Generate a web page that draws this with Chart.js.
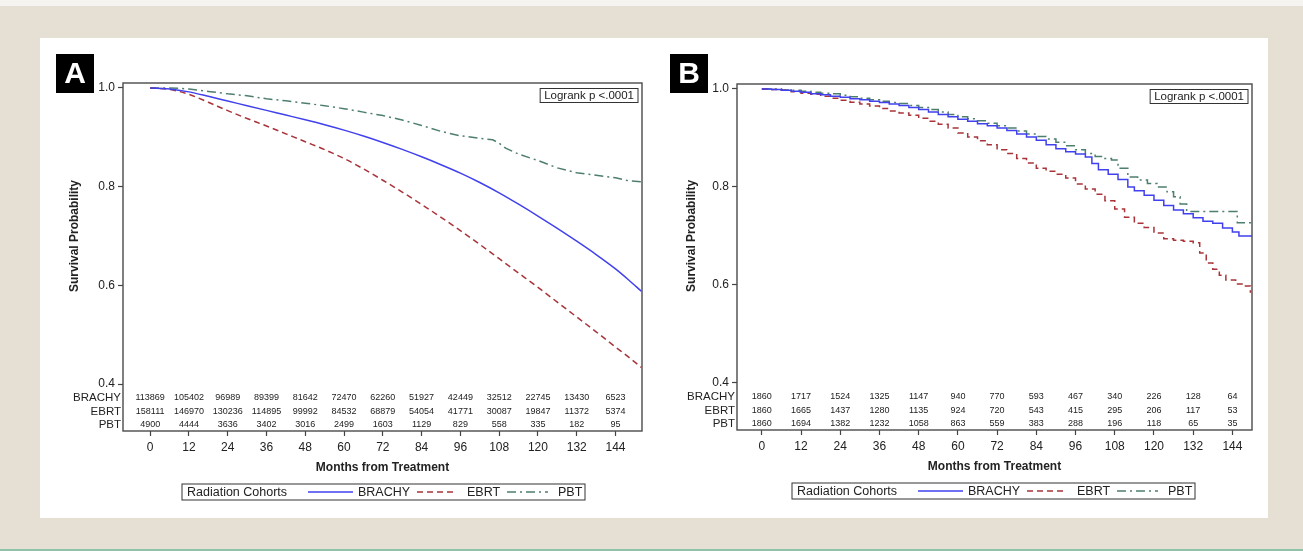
<!DOCTYPE html>
<html>
<head>
<meta charset="utf-8">
<script src="https://cdn.jsdelivr.net/npm/chart.js@4/dist/chart.umd.min.js"></script>
<style>
  html, body { margin: 0; padding: 0; width: 1303px; height: 551px; overflow: hidden; background: #e6dfd4; }
  #topstrip { position: absolute; left: 0; top: 0; width: 1303px; height: 6px; background: #f6f4f0; }
  #panel { position: absolute; left: 40px; top: 38px; width: 1228px; height: 480px; background: #ffffff; }
  #bottomline { position: absolute; left: 0; top: 549px; width: 1303px; height: 2px; background: #8fc2aa; }
  canvas { position: absolute; top: 38px; }
  #chartA { left: 40px; }
  #chartB { left: 660px; }
</style>
</head>
<body>
<div id="topstrip"></div>
<div id="panel"></div>
<div id="bottomline"></div>
<canvas id="chartA" width="620" height="480"></canvas>
<canvas id="chartB" width="608" height="480"></canvas>
<script>
// ---- Panel A: survival curves (months, survival probability) ----
const monthsA = [0, 6, 12, 18, 24, 30, 36, 42, 48, 54, 60, 66, 72, 78, 84, 90, 96, 102, 108, 114, 120, 126, 132, 138, 144, 148, 152];
const brachyA = [1.0, 0.998, 0.992, 0.983, 0.9735, 0.964, 0.9545, 0.945, 0.9355, 0.9255, 0.9145, 0.9025, 0.8895, 0.8755, 0.8605, 0.8445, 0.8275, 0.8085, 0.7875, 0.7645, 0.7405, 0.7155, 0.6895, 0.6625, 0.6335, 0.6115, 0.588];
const ebrtA = [1.0, 0.997, 0.987, 0.971, 0.954, 0.938, 0.923, 0.907, 0.891, 0.875, 0.857, 0.836, 0.813, 0.789, 0.764, 0.738, 0.711, 0.683, 0.654, 0.625, 0.596, 0.566, 0.536, 0.506, 0.475, 0.455, 0.434];
const pbtMonthsA = [0, 6, 12, 18, 24, 30, 36, 42, 48, 54, 60, 66, 72, 78, 84, 90, 96, 102, 106, 108, 110, 114, 120, 126, 132, 138, 144, 148, 152];
const pbtA = [1.0, 1.0, 0.998, 0.993, 0.988, 0.984, 0.978, 0.974, 0.969, 0.964, 0.958, 0.951, 0.944, 0.935, 0.924, 0.912, 0.903, 0.898, 0.895, 0.888, 0.878, 0.866, 0.853, 0.838, 0.828, 0.823, 0.818, 0.812, 0.810];

// ---- Panel B: matched cohorts, step curves ----
const brachyMonthsB = [0, 3, 6, 9, 12, 15, 18, 21, 24, 27, 30, 33, 36, 39, 42, 45, 48, 51, 54, 57, 60, 63, 66, 69, 72, 75, 78, 81, 84, 87, 90, 93, 96, 99, 101, 103, 106, 109, 112, 114, 117, 120, 123, 126, 129, 132, 135, 138, 141, 144, 146, 150];
const brachyB = [1.0, 0.999, 0.997, 0.995, 0.993, 0.990, 0.988, 0.985, 0.983, 0.980, 0.978, 0.975, 0.972, 0.969, 0.966, 0.962, 0.958, 0.953, 0.948, 0.943, 0.938, 0.934, 0.929, 0.925, 0.920, 0.915, 0.908, 0.902, 0.895, 0.886, 0.878, 0.872, 0.867, 0.861, 0.848, 0.835, 0.826, 0.815, 0.800, 0.792, 0.783, 0.773, 0.762, 0.753, 0.745, 0.737, 0.730, 0.726, 0.716, 0.708, 0.700, 0.700];
const ebrtMonthsB = [0, 3, 6, 9, 12, 15, 18, 21, 24, 27, 30, 33, 36, 39, 42, 45, 48, 51, 54, 57, 60, 63, 66, 69, 72, 75, 78, 81, 84, 87, 90, 93, 96, 99, 102, 105, 108, 111, 114, 117, 120, 123, 126, 129, 132, 134, 136, 138, 140, 142, 145, 148, 149.5];
const ebrtB = [1.0, 0.999, 0.997, 0.994, 0.991, 0.989, 0.985, 0.981, 0.977, 0.973, 0.969, 0.965, 0.960, 0.955, 0.951, 0.946, 0.940, 0.934, 0.928, 0.920, 0.910, 0.902, 0.894, 0.886, 0.876, 0.868, 0.858, 0.849, 0.838, 0.832, 0.826, 0.818, 0.806, 0.796, 0.785, 0.772, 0.755, 0.738, 0.726, 0.717, 0.706, 0.694, 0.691, 0.689, 0.686, 0.665, 0.645, 0.632, 0.620, 0.610, 0.602, 0.598, 0.584];
const pbtMonthsB = [0, 3, 6, 9, 12, 15, 18, 21, 24, 27, 30, 33, 36, 39, 42, 45, 48, 51, 54, 57, 60, 63, 66, 69, 72, 75, 78, 81, 84, 87, 90, 93, 96, 99, 102, 105, 107, 109, 112, 115, 118, 121, 124, 126, 128, 130, 145, 145.5, 150];
const pbtB = [1.0, 1.0, 0.998, 0.997, 0.995, 0.993, 0.991, 0.990, 0.987, 0.984, 0.981, 0.978, 0.975, 0.972, 0.970, 0.966, 0.962, 0.958, 0.953, 0.948, 0.943, 0.939, 0.935, 0.930, 0.925, 0.920, 0.914, 0.908, 0.903, 0.898, 0.891, 0.884, 0.876, 0.868, 0.862, 0.858, 0.855, 0.838, 0.820, 0.814, 0.807, 0.800, 0.790, 0.780, 0.765, 0.750, 0.750, 0.727, 0.727];

// ---- Axis ticks and number-at-risk table ----
const monthTicks = [0, 12, 24, 36, 48, 60, 72, 84, 96, 108, 120, 132, 144];
const survivalTicks = [0.4, 0.6, 0.8, 1.0];
const cohortNames = ['BRACHY', 'EBRT', 'PBT'];
const atRiskA = [
  [113869, 105402, 96989, 89399, 81642, 72470, 62260, 51927, 42449, 32512, 22745, 13430, 6523],
  [158111, 146970, 130236, 114895, 99992, 84532, 68879, 54054, 41771, 30087, 19847, 11372, 5374],
  [4900, 4444, 3636, 3402, 3016, 2499, 1603, 1129, 829, 558, 335, 182, 95]
];
const atRiskB = [
  [1860, 1717, 1524, 1325, 1147, 940, 770, 593, 467, 340, 226, 128, 64],
  [1860, 1665, 1437, 1280, 1135, 924, 720, 543, 415, 295, 206, 117, 53],
  [1860, 1694, 1382, 1232, 1058, 863, 559, 383, 288, 196, 118, 65, 35]
];

const FONT = '"Liberation Sans", Arial, sans-serif';
const TEXT = '#222222';
const cohortStyle = [
  { color: 'rgb(64, 64, 238)', dash: [] },
  { color: 'rgb(168, 52, 58)', dash: [6, 4] },
  { color: 'rgb(78, 126, 110)', dash: [9, 4, 2, 4] }
];

function xy(t, s) { return t.map((m, i) => ({ x: m, y: s[i] })); }

function makeDatasets(series, stepped, smooth) {
  return series.map((s, i) => ({
    label: cohortNames[i],
    data: xy(s[0], s[1]),
    borderColor: cohortStyle[i].color,
    borderDash: cohortStyle[i].dash,
    borderWidth: 1.5,
    pointRadius: 0,
    fill: false,
    tension: 0,
    cubicInterpolationMode: smooth[i] ? 'monotone' : 'default',
    stepped: stepped
  }));
}

// Frame, panel tag, log-rank box, at-risk table, axis titles and legend
const kmExtras = {
  id: 'kmExtras',
  afterDraw(chart, args, o) {
    const { ctx, chartArea: ca, scales } = chart;
    const xs = scales.x, ys = scales.y;
    ctx.save();

    // plot frame
    ctx.strokeStyle = '#4a4a4a';
    ctx.lineWidth = 1.4;
    ctx.setLineDash([]);
    ctx.strokeRect(ca.left, ca.top, ca.right - ca.left, ca.bottom - ca.top);

    // panel tag
    ctx.fillStyle = '#000';
    ctx.fillRect(o.tagX, 16, 38, 39);
    ctx.fillStyle = '#fff';
    ctx.font = 'bold 30px ' + FONT;
    ctx.textAlign = 'center';
    ctx.textBaseline = 'middle';
    ctx.fillText(o.tag, o.tagX + 19, 37);

    // log-rank annotation
    ctx.font = '11.5px ' + FONT;
    const lt = 'Logrank p <.0001';
    const lw = ctx.measureText(lt).width + 8;
    ctx.strokeStyle = '#333';
    ctx.lineWidth = 1;
    ctx.strokeRect(ca.right - 4 - lw, ca.top + 5.5, lw, 14);
    ctx.fillStyle = TEXT;
    ctx.textAlign = 'left';
    ctx.fillText(lt, ca.right - lw, ca.top + 13);

    // number at risk
    const rowOffsets = [-33, -19.5, -6.5];
    o.atRisk.forEach((row, r) => {
      const yy = ca.bottom + rowOffsets[r];
      ctx.font = '11.5px ' + FONT;
      ctx.textAlign = 'right';
      ctx.fillStyle = TEXT;
      ctx.fillText(cohortNames[r], ca.left - 2, yy);
      ctx.font = '9px ' + FONT;
      ctx.textAlign = 'center';
      row.forEach((v, i) => ctx.fillText(String(v), xs.getPixelForValue(monthTicks[i]), yy));
    });

    // axis titles
    ctx.font = 'bold 12px ' + FONT;
    ctx.fillStyle = TEXT;
    ctx.textAlign = 'center';
    ctx.fillText('Months from Treatment', (ca.left + ca.right) / 2, ca.bottom + 37);
    ctx.save();
    ctx.translate(o.yTitleX, ys.getPixelForValue(0.7));
    ctx.rotate(-Math.PI / 2);
    ctx.fillText('Survival Probability', 0, 0);
    ctx.restore();

    // legend
    const L = o.legendX, cy = ca.bottom + 61;
    ctx.strokeStyle = '#333';
    ctx.lineWidth = 1;
    ctx.strokeRect(L, cy - 8, 403, 16);
    ctx.font = '12.5px ' + FONT;
    ctx.fillStyle = TEXT;
    ctx.textAlign = 'left';
    ctx.fillText('Radiation Cohorts', L + 5, cy + 1);
    const items = [[126, 171, 176], [235, 275, 285], [325, 366, 376]];
    chart.data.datasets.forEach((ds, i) => {
      const it = items[i];
      ctx.strokeStyle = ds.borderColor;
      ctx.lineWidth = 1.5;
      ctx.setLineDash(ds.borderDash);
      ctx.beginPath();
      ctx.moveTo(L + it[0], cy);
      ctx.lineTo(L + it[1], cy);
      ctx.stroke();
      ctx.setLineDash([]);
      ctx.fillText(ds.label, L + it[2], cy + 1);
    });
    ctx.restore();
  }
};

function makeChart(id, datasets, cfg) {
  return new Chart(document.getElementById(id), {
    type: 'line',
    data: { datasets },
    plugins: [kmExtras],
    options: {
      responsive: false,
      animation: false,
      events: [],
      layout: { padding: { left: 0, top: cfg.top, right: cfg.right, bottom: 0 } },
      plugins: {
        legend: { display: false },
        tooltip: { enabled: false },
        kmExtras: cfg.extras
      },
      scales: {
        x: {
          type: 'linear',
          min: cfg.xMin,
          max: cfg.xMax,
          afterBuildTicks: s => { s.ticks = monthTicks.map(v => ({ value: v })); },
          afterFit: s => { s.height = cfg.xHeight; },
          ticks: { callback: v => String(v), font: { family: FONT, size: 12 }, color: TEXT, padding: 4, maxRotation: 0, autoSkip: false },
          grid: { drawOnChartArea: false, tickLength: 5, color: '#444', tickWidth: 1.2 },
          border: { display: false }
        },
        y: {
          type: 'linear',
          min: cfg.yMin,
          max: 1.01,
          afterBuildTicks: s => { s.ticks = survivalTicks.map(v => ({ value: v })); },
          afterFit: s => { s.width = cfg.yWidth; },
          ticks: { callback: v => v.toFixed(1), font: { family: FONT, size: 12 }, color: TEXT, padding: 3 },
          grid: { drawOnChartArea: false, tickLength: 5, color: '#444', tickWidth: 1.2 },
          border: { display: false }
        }
      }
    }
  });
}

makeChart('chartA',
  makeDatasets([[monthsA, brachyA], [monthsA, ebrtA], [pbtMonthsA, pbtA]], false, [true, true, false]),
  { top: 45, right: 18, xHeight: 87, yWidth: 83, xMin: -8.4, xMax: 152.2, yMin: 0.305,
    extras: { tag: 'A', tagX: 16, yTitleX: 35, legendX: 142, atRisk: atRiskA } });

makeChart('chartB',
  makeDatasets([[brachyMonthsB, brachyB], [ebrtMonthsB, ebrtB], [pbtMonthsB, pbtB]], true, [false, false, false]),
  { top: 46, right: 16, xHeight: 88, yWidth: 77, xMin: -7.6, xMax: 150, yMin: 0.304,
    extras: { tag: 'B', tagX: 10, yTitleX: 32, legendX: 132, atRisk: atRiskB } });
</script>
</body>
</html>
